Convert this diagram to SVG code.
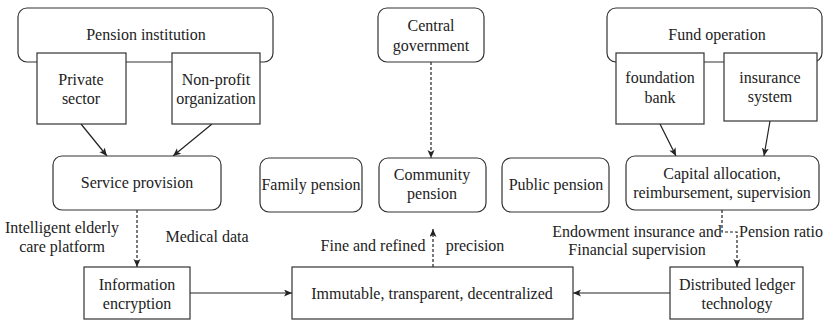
<svg xmlns="http://www.w3.org/2000/svg" width="824" height="321" viewBox="0 0 824 321" font-family="Liberation Serif, serif">
  <style>
    .box { fill: #ffffff; stroke: #333333; stroke-width: 1.2; }
    .lbl { font-size: 16px; fill: #222222; }
    .mid { text-anchor: middle; }
    .edge { fill: none; stroke: #222222; stroke-width: 1.2; }
    .dash { stroke-dasharray: 3 2; }
  </style>
  <defs>
    <marker id="arrow" markerWidth="9" markerHeight="8" refX="8" refY="3.5" orient="auto" markerUnits="userSpaceOnUse">
      <path d="M0,0 L8,3.5 L0,7 L2,3.5 z" fill="#222222"/>
    </marker>
  </defs>
  <rect width="824" height="321" fill="#ffffff"/>

  <!-- connectors -->
  <g id="connectors">
    <line class="edge" x1="81" y1="124" x2="107" y2="156" marker-end="url(#arrow)"/>
    <line class="edge" x1="212" y1="124" x2="173" y2="156" marker-end="url(#arrow)"/>
    <line class="edge" x1="660" y1="124" x2="676" y2="156" marker-end="url(#arrow)"/>
    <line class="edge" x1="770" y1="121" x2="764" y2="156" marker-end="url(#arrow)"/>
    <line class="edge dash" x1="431" y1="62" x2="431" y2="158" marker-end="url(#arrow)"/>
    <line class="edge dash" x1="137" y1="210" x2="137" y2="267" marker-end="url(#arrow)"/>
    <line class="edge dash" x1="433" y1="267" x2="433" y2="229" marker-end="url(#arrow)"/>
    <polyline class="edge dash" points="722,210 722,232 737,232 737,267" marker-end="url(#arrow)"/>
    <line class="edge" x1="190" y1="293" x2="292" y2="293" marker-end="url(#arrow)"/>
    <line class="edge" x1="670" y1="293" x2="573" y2="293" marker-end="url(#arrow)"/>
  </g>

  <!-- edge labels -->
  <g id="edge-labels">
    <text class="lbl mid" x="62" y="233">Intelligent elderly</text>
    <text class="lbl mid" x="62" y="252">care platform</text>
    <text class="lbl mid" x="207" y="242">Medical data</text>
    <text class="lbl mid" x="373" y="251">Fine and refined</text>
    <text class="lbl mid" x="475" y="251">precision</text>
    <text class="lbl mid" x="637" y="237">Endowment insurance and</text>
    <text class="lbl mid" x="637" y="255">Financial supervision</text>
    <text class="lbl" x="739" y="237">Pension ratio</text>
  </g>

  <!-- pension institution group -->
  <g id="pension-institution">
    <rect class="box" x="18" y="8" width="255" height="54" rx="9"/>
    <text class="lbl mid" x="146" y="40">Pension institution</text>
  </g>
  <g id="private-sector">
    <rect class="box" x="37" y="53" width="89" height="71"/>
    <text class="lbl mid" x="81" y="85">Private</text>
    <text class="lbl mid" x="81" y="104">sector</text>
  </g>
  <g id="non-profit">
    <rect class="box" x="172" y="53" width="88" height="71"/>
    <text class="lbl mid" x="216" y="85">Non-profit</text>
    <text class="lbl mid" x="216" y="104">organization</text>
  </g>

  <!-- central government -->
  <g id="central-government">
    <rect class="box" x="378" y="8" width="106" height="54" rx="9"/>
    <text class="lbl mid" x="431" y="31">Central</text>
    <text class="lbl mid" x="431" y="51">government</text>
  </g>

  <!-- fund operation group -->
  <g id="fund-operation">
    <rect class="box" x="607" y="8" width="215" height="54" rx="9"/>
    <text class="lbl mid" x="717" y="40">Fund operation</text>
  </g>
  <g id="foundation-bank">
    <rect class="box" x="616" y="53" width="88" height="71"/>
    <text class="lbl mid" x="660" y="83">foundation</text>
    <text class="lbl mid" x="660" y="103">bank</text>
  </g>
  <g id="insurance-system">
    <rect class="box" x="724" y="53" width="93" height="68"/>
    <text class="lbl mid" x="770" y="83">insurance</text>
    <text class="lbl mid" x="770" y="102">system</text>
  </g>

  <!-- middle row -->
  <g id="service-provision">
    <rect class="box" x="53" y="156" width="168" height="54" rx="9"/>
    <text class="lbl mid" x="137" y="188">Service provision</text>
  </g>
  <g id="family-pension">
    <rect class="box" x="260" y="158" width="102" height="54" rx="9"/>
    <text class="lbl mid" x="311" y="190">Family pension</text>
  </g>
  <g id="community-pension">
    <rect class="box" x="379" y="158" width="107" height="54" rx="9"/>
    <text class="lbl mid" x="432" y="180">Community</text>
    <text class="lbl mid" x="432" y="199">pension</text>
  </g>
  <g id="public-pension">
    <rect class="box" x="502" y="158" width="107" height="54" rx="9"/>
    <text class="lbl mid" x="556" y="190">Public pension</text>
  </g>
  <g id="capital-allocation">
    <rect class="box" x="626" y="156" width="193" height="54" rx="9"/>
    <text class="lbl mid" x="722" y="179">Capital allocation,</text>
    <text class="lbl mid" x="722" y="198">reimbursement, supervision</text>
  </g>

  <!-- bottom row -->
  <g id="information-encryption">
    <rect class="box" x="84" y="267" width="106" height="52"/>
    <text class="lbl mid" x="137" y="290">Information</text>
    <text class="lbl mid" x="137" y="309">encryption</text>
  </g>
  <g id="immutable">
    <rect class="box" x="292" y="267" width="281" height="52"/>
    <text class="lbl mid" x="432" y="299">Immutable, transparent, decentralized</text>
  </g>
  <g id="distributed-ledger">
    <rect class="box" x="670" y="267" width="133" height="52"/>
    <text class="lbl mid" x="737" y="290">Distributed ledger</text>
    <text class="lbl mid" x="737" y="309">technology</text>
  </g>
</svg>
